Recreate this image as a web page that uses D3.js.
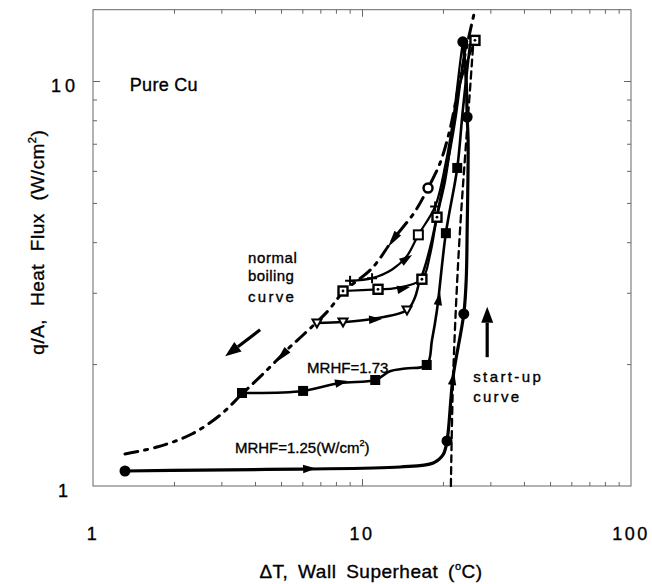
<!DOCTYPE html>
<html>
<head>
<meta charset="utf-8">
<script src="https://cdn.jsdelivr.net/npm/d3@7/dist/d3.min.js"></script>
<style>
  html, body { margin: 0; padding: 0; background: #fff; }
  svg { display: block; font-family: "Liberation Sans", Arial, Helvetica, sans-serif; }
  svg text { fill: #000; stroke: #000; stroke-width: 0.35px; }
</style>
</head>
<body>
<svg id="chart" width="652" height="584"></svg>
<script>
// ---- axis values ----
const xTickValues = [1, 10, 100];
const yTickValues = [1, 10];
const xMinorTicks = [2, 3, 4, 5, 6, 7, 8, 9, 20, 30, 40, 50, 60, 70, 80, 90];
const yMinorTicks = [2, 3, 4, 5, 6, 7, 8, 9];

// ---- boiling runs: [wall superheat (°C), heat flux (W/cm²)] ----
// MRHF = 1.25 W/cm² run, climbing along the start-up curve (filled circles)
const runStartup = [[1.315, 1.089], [2.5, 1.095], [5.88, 1.101], [13.85, 1.114], [18.4, 1.14],
  [20.0, 1.193], [20.7, 1.292], [21.8, 1.858], [23.9, 2.66], [24.4, 3.23], [24.6, 4.29],
  [24.8, 7.15], [24.6, 8.15], [24.4, 10.0], [23.7, 12.5]];
const runStartupMarks = [0, 6, 8, 12, 14];

// start-up reference curve (dashed)
const startupCurve = [[21.4, 1.0], [21.8, 1.83], [22.6, 3.23], [23.3, 4.6], [24.2, 6.6],
  [25.2, 9.5], [25.9, 12.3]];

// normal boiling curve (dash-dot)
const normalCurve = [[1.315, 1.2], [1.73, 1.248], [2.33, 1.344], [2.97, 1.497], [3.58, 1.687],
  [4.36, 1.912], [5.40, 2.205], [6.04, 2.36], [7.47, 2.705], [8.50, 3.01], [10.9, 3.45],
  [13.0, 4.05], [15.7, 4.75], [17.6, 5.44], [19.5, 6.27], [21.2, 7.57], [23.1, 10.06],
  [24.6, 12.3], [26.3, 15.0]];
const normalCurveMarks = [13];

// MRHF = 1.73 W/cm² run (filled squares)
const run173 = [[3.58, 1.697], [6.04, 1.717], [8.28, 1.796], [11.2, 1.827], [12.7, 1.92],
  [14.5, 1.95], [17.4, 1.99], [18.2, 2.29], [19.0, 2.72], [20.5, 4.21], [22.6, 6.1],
  [23.7, 8.48], [25.2, 12.3]];
const run173Marks = [0, 1, 3, 6, 9, 10];

// run with open inverted triangles
const runTriangle = [[6.80, 2.527], [8.50, 2.54], [10.9, 2.584], [14.7, 2.72], [15.7, 2.91],
  [16.3, 3.17], [17.0, 3.42], [18.2, 4.05], [19.5, 5.08], [20.9, 6.38], [22.2, 8.01],
  [23.5, 10.6], [24.4, 12.3]];
const runTriangleMarks = [0, 1, 3];

// run with dotted open squares
const runBox = [[8.50, 3.03], [11.47, 3.06], [13.3, 3.08], [16.7, 3.24], [17.9, 3.72],
  [19.0, 4.61], [20.4, 5.69], [21.6, 7.36], [23.1, 9.78], [26.3, 12.6]];
const runBoxMarks = [0, 1, 3, 5, 9];

// run with crosses and an open square
const runCross = [[9.03, 3.21], [10.9, 3.26], [12.9, 3.42], [14.7, 3.70], [16.2, 4.17],
  [18.7, 4.9], [20.4, 6.2], [21.8, 8.01], [23.1, 10.95], [23.7, 12.5]];
const runCrossMarks = [0, 1, 5];
const runCrossSquareMarks = [4];

// direction arrows riding on the runs: [x tail, y tail, x tip, y tip]
const flowArrows = [
  [5.78, 1.10, 6.75, 1.104],
  [21.4, 1.706, 22.0, 1.912],
  [7.80, 1.785, 8.87, 1.817],
  [19.0, 2.72, 19.5, 3.01],
  [10.17, 2.57, 11.87, 2.584],
  [12.93, 3.03, 15.08, 3.10],
  [13.85, 3.55, 15.35, 3.72]
];
// arrow heads on the normal boiling curve (pointing down the curve)
const curveArrows = [
  [5.40, 2.205, 4.79, 2.02],
  [13.85, 4.29, 12.5, 3.89]
];
// free-standing pointer arrows
const pointerArrows = [
  [4.18, 2.43, 3.10, 2.09],
  [29.2, 2.08, 29.2, 2.77]
];

// annotations: text, anchor superheat, anchor heat flux
const annotations = [
  ["Pure Cu", 1.37, 9.45],
  ["normal", 3.77, 3.55],
  ["boiling", 3.77, 3.21],
  ["curve", 3.77, 2.85],
  ["MRHF=1.73", 6.25, 1.90],
  ["start-up", 25.9, 1.806],
  ["curve", 25.9, 1.61]
];
const mrhfLowAnchor = [3.37, 1.206];

// ---- scales ----
const svg = d3.select("#chart");
const x = d3.scaleLog().domain([1, 100]).range([93, 631]);
const y = d3.scaleLog().domain([1, 15]).range([486, 9.7]);
const px = d => [x(d[0]), y(d[1])];

svg.append("rect").attr("width", 652).attr("height", 584).attr("fill", "#fff");

// ---- frame and inward ticks ----
const axisStroke = "#666";
function tickAxis(gen, vals, size, tx) {
  const g = svg.append("g").attr("transform", tx)
    .call(gen.tickValues(vals).tickSize(size).tickFormat(""));
  g.select(".domain").remove();
  g.selectAll("line").attr("stroke", axisStroke).attr("stroke-width", 1);
}
tickAxis(d3.axisBottom(x), xMinorTicks, -4, `translate(0,${y(1)})`);
tickAxis(d3.axisBottom(x), [10], -7, `translate(0,${y(1)})`);
tickAxis(d3.axisTop(x), xMinorTicks, -4, `translate(0,${y(15)})`);
tickAxis(d3.axisTop(x), [10], -7, `translate(0,${y(15)})`);
tickAxis(d3.axisLeft(y), yMinorTicks, -4, `translate(${x(1)},0)`);
tickAxis(d3.axisLeft(y), [10], -7, `translate(${x(1)},0)`);
tickAxis(d3.axisRight(y), yMinorTicks, -4, `translate(${x(100)},0)`);
tickAxis(d3.axisRight(y), [10], -7, `translate(${x(100)},0)`);

svg.append("rect")
  .attr("x", x(1)).attr("y", y(15))
  .attr("width", x(100) - x(1)).attr("height", y(1) - y(15))
  .attr("fill", "none").attr("stroke", axisStroke).attr("stroke-width", 1);

// tick labels
svg.append("g").selectAll("text").data(xTickValues).join("text")
  .attr("x", d => x(d)).attr("y", y(1) + 54)
  .attr("text-anchor", "middle")
  .attr("font-size", 18).attr("letter-spacing", 2.5)
  .text(d => d);
svg.append("g").selectAll("text").data(yTickValues).join("text")
  .attr("x", x(1) - 28).attr("y", d => y(d) + 11)
  .attr("text-anchor", "middle")
  .attr("font-size", 18).attr("letter-spacing", 4)
  .text(d => d);

// axis titles
const xTitle = svg.append("text")
  .attr("x", x(1) + 278).attr("y", 578)
  .attr("text-anchor", "middle")
  .attr("font-size", 19).attr("letter-spacing", 0.5).attr("word-spacing", 4);
xTitle.append("tspan").text("ΔT, Wall Superheat (");
xTitle.append("tspan").attr("font-size", 11).attr("dy", -8).text("o");
xTitle.append("tspan").attr("dy", 8).text("C)");

const yTitle = svg.append("text")
  .attr("transform", `translate(44,${y(4)}) rotate(-90)`)
  .attr("text-anchor", "middle")
  .attr("font-size", 19).attr("letter-spacing", 0.5).attr("word-spacing", 7);
yTitle.append("tspan").text("q/A, Heat Flux (W/cm");
yTitle.append("tspan").attr("font-size", 11).attr("dy", -8).text("2");
yTitle.append("tspan").attr("dy", 8).text(")");

// ---- curves ----
const line = d3.line().x(d => x(d[0])).y(d => y(d[1])).curve(d3.curveCatmullRom.alpha(0.5));
function drawRun(data, width, dash) {
  svg.append("path").datum(data)
    .attr("d", line)
    .attr("fill", "none").attr("stroke", "#000")
    .attr("stroke-width", width)
    .attr("stroke-linecap", "round").attr("stroke-linejoin", "round")
    .attr("stroke-dasharray", dash || null);
}
drawRun(startupCurve, 2.3, "7,5");
drawRun(normalCurve, 3, "13,7,3,7");
drawRun(runBox, 2.2);
drawRun(runCross, 2.2);
drawRun(runTriangle, 2.5);
drawRun(run173, 2.6);
drawRun(runStartup, 3.2);

// ---- markers ----
const mk = svg.append("g");
function pick(data, idx) { return idx.map(i => data[i]); }
mk.selectAll(".fc").data(pick(runStartup, runStartupMarks)).join("circle")
  .attr("cx", d => x(d[0])).attr("cy", d => y(d[1])).attr("r", 5.5).attr("fill", "#000");
mk.selectAll(".oc").data(pick(normalCurve, normalCurveMarks)).join("circle")
  .attr("cx", d => x(d[0])).attr("cy", d => y(d[1])).attr("r", 4.5)
  .attr("fill", "#fff").attr("stroke", "#000").attr("stroke-width", 2.5);
mk.selectAll(".fs").data(pick(run173, run173Marks)).join("rect")
  .attr("x", d => x(d[0]) - 5).attr("y", d => y(d[1]) - 5)
  .attr("width", 10).attr("height", 10).attr("fill", "#000");
mk.selectAll(".tri").data(pick(runTriangle, runTriangleMarks)).join("path")
  .attr("transform", d => `translate(${x(d[0])},${y(d[1])})`)
  .attr("d", "M-4.5,-3.5L4.5,-3.5L0,4.5Z")
  .attr("fill", "#fff").attr("stroke", "#000").attr("stroke-width", 2);
const boxG = mk.selectAll(".bx").data(pick(runBox, runBoxMarks)).join("g")
  .attr("transform", d => `translate(${x(d[0])},${y(d[1])})`);
boxG.append("rect").attr("x", -4.5).attr("y", -4.5).attr("width", 9).attr("height", 9)
  .attr("fill", "#fff").attr("stroke", "#000").attr("stroke-width", 2.4);
boxG.append("circle").attr("r", 1.4).attr("fill", "#000");
mk.selectAll(".cr").data(pick(runCross, runCrossMarks)).join("path")
  .attr("transform", d => `translate(${x(d[0])},${y(d[1])})`)
  .attr("d", "M-5,0H5M0,-5V5")
  .attr("stroke", "#000").attr("stroke-width", 2);
mk.selectAll(".os").data(pick(runCross, runCrossSquareMarks)).join("rect")
  .attr("x", d => x(d[0]) - 4.5).attr("y", d => y(d[1]) - 4.5)
  .attr("width", 9).attr("height", 9)
  .attr("fill", "#fff").attr("stroke", "#000").attr("stroke-width", 2);

// ---- arrows ----
function head(tail, tip, len, half) {
  const [x0, y0] = px(tail), [x1, y1] = px(tip);
  const dx = x1 - x0, dy = y1 - y0, n = Math.hypot(dx, dy) || 1;
  const ux = dx / n, uy = dy / n;
  const bx = x1 - ux * len, by = y1 - uy * len;
  return { pts: [[x1, y1], [bx - uy * half, by + ux * half], [bx + uy * half, by - ux * half]], bx, by, x0, y0 };
}
const ag = svg.append("g");
flowArrows.forEach(a => {
  const h = head([a[0], a[1]], [a[2], a[3]], 13, 4.2);
  ag.append("polygon").attr("points", h.pts.map(p => p.join(",")).join(" ")).attr("fill", "#000");
});
curveArrows.forEach(a => {
  const h = head([a[0], a[1]], [a[2], a[3]], 17, 4);
  ag.append("polygon").attr("points", h.pts.map(p => p.join(",")).join(" ")).attr("fill", "#000");
});
pointerArrows.forEach(a => {
  const h = head([a[0], a[1]], [a[2], a[3]], 16, 6);
  ag.append("line").attr("x1", h.x0).attr("y1", h.y0).attr("x2", h.bx).attr("y2", h.by)
    .attr("stroke", "#000").attr("stroke-width", 3.2);
  ag.append("polygon").attr("points", h.pts.map(p => p.join(",")).join(" ")).attr("fill", "#000");
});

// ---- annotations ----
const spacing = { "Pure Cu": 0.3, "normal": 0.6, "boiling": 0.4, "curve": 2.3, "MRHF=1.73": 0, "start-up": 2.4 };
svg.append("g").selectAll("text").data(annotations).join("text")
  .attr("x", d => x(d[1])).attr("y", d => y(d[2]))
  .attr("font-size", d => d[0] === "Pure Cu" ? 18 : 15)
  .attr("letter-spacing", d => spacing[d[0]])
  .text(d => d[0]);

const low = svg.append("text")
  .attr("x", x(mrhfLowAnchor[0])).attr("y", y(mrhfLowAnchor[1]))
  .attr("font-size", 15);
low.append("tspan").text("MRHF=1.25(W/cm");
low.append("tspan").attr("font-size", 9).attr("dy", -7).text("2");
low.append("tspan").attr("dy", 7).text(")");
</script>
</body>
</html>
